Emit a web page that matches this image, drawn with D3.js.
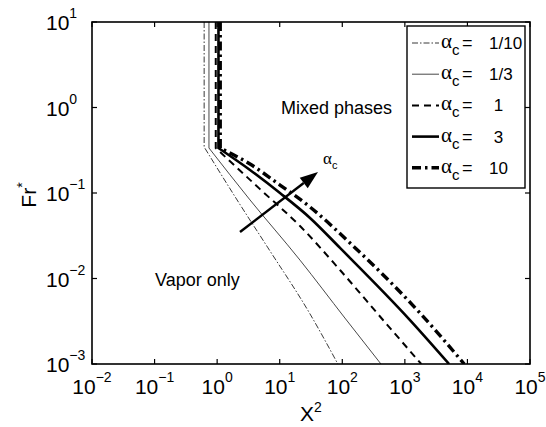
<!DOCTYPE html>
<html>
<head>
<meta charset="utf-8">
<script src="https://cdn.jsdelivr.net/npm/d3@7"></script>
<style>
  body { margin: 0; background: #fff; }
  svg { font-family: "Liberation Sans", Arial, sans-serif; }
</style>
</head>
<body>
<div id="chart"></div>
<script>
// values (X^2, Fr*)
var alphaLabels = ["1/10", "1/3", " 1", " 3", "10"];
var xTicks = [1e-2, 1e-1, 1e0, 1e1, 1e2, 1e3, 1e4, 1e5];
var yTicks = [1e-3, 1e-2, 1e-1, 1e0, 1e1];

// first two points: vertical part, then the falling branch
var x_a01 = [0.62, 0.62, 2.3, 6.5, 30.5, 85];
var y_a01 = [10, 0.345, 0.074, 0.0228, 0.00385, 0.001];
var x_a03 = [0.74, 0.74, 3.35, 21.1, 110, 415];
var y_a03 = [10, 0.336, 0.083, 0.0164, 0.00345, 0.001];
var x_a1 = [0.95, 0.95, 4.84, 21.1, 92, 448, 1830];
var y_a1 = [10, 0.336, 0.111, 0.0411, 0.01256, 0.00327, 0.001];
var x_a3 = [1.05, 1.05, 3.35, 10.1, 30.5, 92, 1208, 5100];
var y_a3 = [10, 0.336, 0.186, 0.1, 0.0511, 0.0228, 0.00327, 0.001];
var x_a10 = [1.12, 1.12, 3.35, 10.1, 30.5, 133, 1746, 8900];
var y_a10 = [10, 0.336, 0.218, 0.124, 0.0686, 0.026, 0.00394, 0.001];

// arrow annotation (data coords)
var arrowX = [2.32, 40.9];
var arrowY = [0.035, 0.176];

function init() {
    var w = 546, h = 427;
    var left = 92, right = 530, top = 22, bottom = 364;

    var svg = d3.select("#chart").append("svg")
        .attr("width", w)
        .attr("height", h);

    var x = d3.scaleLog().domain([1e-2, 1e5]).range([left, right]);
    var y = d3.scaleLog().domain([1e-3, 1e1]).range([bottom, top]);

    svg.append("clipPath").attr("id", "clip")
        .append("rect")
        .attr("x", left).attr("y", top)
        .attr("width", right - left).attr("height", bottom - top);

    var styles = [
        { w: 0.9, dash: "6,2,1.5,2", color: "#222" },
        { w: 0.9, dash: null, color: "#333" },
        { w: 2, dash: "7,5", color: "#000" },
        { w: 2.6, dash: null, color: "#000" },
        { w: 3.4, dash: "9,4,2.5,4", color: "#000" }
    ];
    var series = [[x_a01, y_a01], [x_a03, y_a03], [x_a1, y_a1], [x_a3, y_a3], [x_a10, y_a10]];

    var straight = d3.line()
        .x(function (d) { return x(d[0]); })
        .y(function (d) { return y(d[1]); });
    var smooth = d3.line()
        .curve(d3.curveMonotoneX)
        .x(function (d) { return x(d[0]); })
        .y(function (d) { return y(d[1]); });

    var g = svg.append("g").attr("clip-path", "url(#clip)");
    series.forEach(function (s, i) {
        var pts = s[0].map(function (v, j) { return [v, s[1][j]]; });
        var d = straight(pts.slice(0, 2)) + smooth(pts.slice(1)).replace(/^M[^LC]*/, "");
        g.append("path")
            .attr("d", d)
            .attr("fill", "none")
            .attr("stroke", styles[i].color)
            .attr("stroke-width", styles[i].w)
            .attr("stroke-dasharray", styles[i].dash);
    });

    // arrow
    var ax0 = x(arrowX[0]), ay0 = y(arrowY[0]), ax1 = x(arrowX[1]), ay1 = y(arrowY[1]);
    var ang = Math.atan2(ay1 - ay0, ax1 - ax0);
    var hl = 18, hw = 6.5;
    var bx = ax1 - hl * Math.cos(ang), by = ay1 - hl * Math.sin(ang);
    svg.append("line")
        .attr("x1", ax0).attr("y1", ay0).attr("x2", bx).attr("y2", by)
        .attr("stroke", "#000").attr("stroke-width", 2.4);
    svg.append("path")
        .attr("d", "M" + ax1 + "," + ay1 +
            "L" + (bx - hw * Math.sin(ang)) + "," + (by + hw * Math.cos(ang)) +
            "L" + (bx + hw * Math.sin(ang)) + "," + (by - hw * Math.cos(ang)) + "Z")
        .attr("fill", "#000");
    var lab = svg.append("text").attr("x", 323).attr("y", 164)
        .attr("font-family", "Liberation Serif, serif").attr("font-size", 17);
    lab.append("tspan").text("α");
    lab.append("tspan").attr("dy", 5).attr("font-size", 11)
        .attr("font-family", "Liberation Sans, sans-serif").text("c");

    // text annotations
    svg.append("text").attr("x", 281).attr("y", 114).attr("font-size", 18).text("Mixed phases");
    svg.append("text").attr("x", 155).attr("y", 286).attr("font-size", 18).text("Vapor only");

    // box and ticks
    svg.append("rect")
        .attr("x", left).attr("y", top)
        .attr("width", right - left).attr("height", bottom - top)
        .attr("fill", "none").attr("stroke", "#000").attr("stroke-width", 1.6);

    var tl = 5;
    xTicks.forEach(function (t) {
        svg.append("line").attr("x1", x(t)).attr("x2", x(t))
            .attr("y1", bottom).attr("y2", bottom - tl).attr("stroke", "#000").attr("stroke-width", 1.2);
        svg.append("line").attr("x1", x(t)).attr("x2", x(t))
            .attr("y1", top).attr("y2", top + tl).attr("stroke", "#000").attr("stroke-width", 1.2);
        var e = Math.round(Math.log10(t));
        var tx = svg.append("text").attr("x", x(t)).attr("y", 394)
            .attr("text-anchor", "middle").attr("font-size", 21);
        tx.append("tspan").text("10");
        tx.append("tspan").attr("dy", -12).attr("font-size", 14)
            .text(e < 0 ? "\u2212" + (-e) : "" + e);
    });
    yTicks.forEach(function (t) {
        svg.append("line").attr("y1", y(t)).attr("y2", y(t))
            .attr("x1", left).attr("x2", left + tl).attr("stroke", "#000").attr("stroke-width", 1.2);
        svg.append("line").attr("y1", y(t)).attr("y2", y(t))
            .attr("x1", right).attr("x2", right - tl).attr("stroke", "#000").attr("stroke-width", 1.2);
        var e = Math.round(Math.log10(t));
        var ty = svg.append("text").attr("x", 46).attr("y", y(t) + 8)
            .attr("font-size", 21);
        ty.append("tspan").text("10");
        ty.append("tspan").attr("dy", -12).attr("font-size", 14)
            .text(e < 0 ? "\u2212" + (-e) : "" + e);
    });

    // axis labels
    var xl = svg.append("text").attr("x", (left + right) / 2).attr("y", 421)
        .attr("text-anchor", "middle").attr("font-size", 21);
    xl.append("tspan").text("X");
    xl.append("tspan").attr("dy", -9).attr("font-size", 14).text("2");

    var yl = svg.append("text")
        .attr("transform", "translate(36,195) rotate(-90)")
        .attr("text-anchor", "middle").attr("font-size", 21);
    yl.append("tspan").text("Fr");
    yl.append("tspan").attr("dy", -9).attr("font-size", 14).text("*");

    // legend
    var lx = 407, ly = 26, lw = 118, lh = 162;
    svg.append("rect").attr("x", lx).attr("y", ly).attr("width", lw).attr("height", lh)
        .attr("fill", "#fff").attr("stroke", "#000").attr("stroke-width", 1.4);
    alphaLabels.forEach(function (a, i) {
        var ry = 43 + i * 31.2;
        svg.append("line").attr("x1", 412).attr("x2", 439).attr("y1", ry).attr("y2", ry)
            .attr("stroke", styles[i].color)
            .attr("stroke-width", styles[i].w)
            .attr("stroke-dasharray", styles[i].dash);
        var t = svg.append("text").attr("x", 441).attr("y", ry + 5);
        t.append("tspan").attr("font-family", "Liberation Serif, serif").attr("font-size", 21).text("α");
        t.append("tspan").attr("dy", 7).attr("font-size", 15).text("c");
        svg.append("text").attr("x", 462).attr("y", ry + 6).attr("font-size", 18).text("=");
        svg.append("text").attr("x", 489).attr("y", ry + 6).attr("font-size", 17)
            .style("white-space", "pre").text(a);
    });
}
window.onload = init;
</script>
</body>
</html>
